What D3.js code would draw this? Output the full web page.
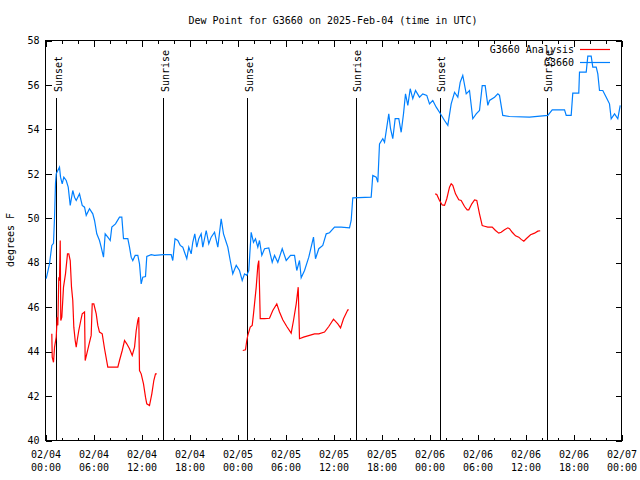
<!DOCTYPE html>
<html>
<head>
<meta charset="utf-8">
<script src="https://cdn.jsdelivr.net/npm/d3@7"></script>
<style>
body { margin: 0; background: #fff; }
text { font-family: "DejaVu Sans Mono", monospace; font-size: 10px; fill: #000; }
</style>
</head>
<body>
<div id="container"></div>
<script>
/**
 * DATA (hours since 2025-02-04 00:00 UTC)
 * */
const obsHours = [0.09,0.5,0.79,1.0,1.13,1.25,1.34,1.54,1.75,1.88,2.09,2.29,2.59,2.84,3.09,3.41,3.63,3.84,4.25,4.59,4.88,5.09,5.5,5.91,6.13,6.41,6.75,6.96,7.25,7.46,7.79,8.09,8.29,8.75,9.25,9.54,9.75,10.29,10.5,10.71,10.91,11.21,11.54,11.75,11.96,12.16,12.5,12.66,13.21,13.63,14.75,15.71,15.91,16.19,16.54,16.84,17.16,17.38,17.66,17.91,18.21,18.41,18.66,18.91,19.16,19.46,19.66,20.09,20.41,20.71,21.13,21.54,21.96,22.25,22.59,22.79,23.09,23.41,23.84,24.25,24.59,24.88,25.16,25.41,25.71,26.0,26.25,26.54,26.75,27.04,27.38,27.91,28.34,28.63,29.04,29.59,30.09,30.63,31.13,31.41,31.75,31.96,32.38,32.91,33.5,33.75,34.16,34.66,35.09,35.5,36.13,36.96,38.0,38.21,38.41,40.71,40.91,41.34,41.54,41.75,42.16,42.38,42.91,43.13,43.41,43.71,44.16,44.46,44.75,45.0,45.29,45.59,45.91,46.25,46.75,47.16,47.66,48.0,48.41,48.84,49.25,49.88,50.29,50.71,51.13,51.54,51.84,52.16,52.59,53.0,53.41,53.84,54.25,54.59,54.96,55.29,55.5,56.13,56.54,56.75,57.16,58.0,60.5,62.79,63.34,64.88,65.09,65.71,65.91,66.66,66.75,67.59,67.79,68.21,68.41,68.84,69.04,69.25,69.66,70.09,70.5,70.71,71.13,71.54,71.84];
const obsDewpt = [47.28,47.95,48.78,48.87,50.05,51.57,52.0,52.15,52.3,51.85,51.55,51.85,51.7,51.4,50.58,51.25,50.95,50.8,51.1,50.58,50.5,50.13,50.43,50.2,49.9,49.3,49.0,48.7,48.25,49.3,49.15,49.0,49.6,49.75,50.05,50.05,49.08,49.08,48.7,48.25,48.1,48.33,48.33,47.95,47.05,47.35,47.38,48.28,48.36,48.33,48.36,48.37,48.1,49.08,49.0,48.78,48.7,48.47,48.18,48.7,48.4,48.92,49.3,48.7,49.08,49.3,48.7,49.45,48.85,49.15,49.37,48.7,49.98,49.3,48.92,48.7,48.1,47.5,47.88,47.65,47.2,47.5,47.43,47.65,49.37,48.92,49.08,48.7,49.0,48.33,48.63,48.67,48.02,48.33,48.02,48.63,48.1,48.33,48.33,47.65,48.1,47.32,47.65,48.25,49.15,48.18,48.63,48.78,49.3,49.35,49.6,49.6,49.57,49.9,50.92,50.95,51.93,51.85,51.62,53.35,53.58,53.42,54.7,54.03,53.58,54.48,54.48,53.87,54.7,55.6,55.08,55.83,55.38,55.75,55.45,55.6,55.53,55.15,55.3,55.0,54.77,54.4,54.18,55.15,55.67,55.45,56.12,56.43,55.6,55.75,54.48,54.7,54.85,55.97,55.97,55.08,55.3,55.45,55.6,55.53,54.63,54.58,54.55,54.63,54.88,54.88,54.63,54.63,55.63,55.63,56.58,56.58,57.3,57.3,56.8,56.8,56.5,55.75,55.75,55.45,55.15,54.48,54.7,54.48,55.08];

// analysis series, null marks a gap
const anaHours = [0.79,0.84,1.0,1.13,1.34,1.46,1.54,1.66,1.75,1.84,1.91,2.04,2.25,2.5,2.75,2.91,3.09,3.25,3.41,3.54,3.71,3.84,3.96,4.16,4.41,4.59,4.88,4.96,5.16,5.41,5.71,5.84,6.04,6.34,6.54,6.75,7.09,7.38,7.79,9.04,9.25,9.59,9.88,10.16,10.5,10.84,11.13,11.34,11.54,11.66,11.75,11.96,12.25,12.5,12.66,13.0,13.29,13.54,13.75,13.91,
  19,
  24.66,25.0,25.16,25.29,25.59,25.84,26.0,26.34,26.54,26.66,26.75,26.84,27.38,28.0,28.41,28.91,29.25,29.66,30.16,30.71,31.0,31.34,31.59,31.75,32.25,33.0,33.63,34.16,34.88,35.41,36.0,36.54,36.88,37.25,37.79,37.91,
  43,
  48.71,48.91,49.25,49.59,49.88,50.16,50.5,50.71,50.91,51.25,51.66,51.96,52.38,52.71,52.91,53.29,53.63,53.91,54.25,54.59,54.88,55.29,55.84,56.25,56.66,56.96,57.38,57.79,58.0,58.34,58.75,59.16,59.46,59.79,60.09,60.63,61.13,61.54,61.84];
const anaDewpt = [44.8,43.75,43.52,44.2,44.65,45.55,45.18,47.35,47.2,49.0,45.4,45.55,46.9,47.5,48.4,48.4,48.1,46.9,46.3,45.1,44.5,44.2,44.5,44.95,45.4,45.7,45.78,43.6,43.9,44.28,44.73,46.15,46.15,45.7,45.18,44.88,44.8,44.13,43.3,43.3,43.6,44.05,44.5,44.35,44.13,43.83,44.2,44.95,45.4,45.55,43.15,43.0,42.55,41.95,41.65,41.57,42.1,42.7,43.0,43.0,
  null,
  44.05,44.08,44.5,44.73,45.1,45.18,45.7,46.9,47.87,48.1,46.9,45.48,45.48,45.5,45.85,46.15,45.78,45.43,45.13,44.83,45.4,46.15,46.9,44.58,44.65,44.73,44.8,44.8,44.88,45.13,45.46,45.25,45.07,45.48,45.88,45.88,
  null,
  51.1,51.07,50.8,50.6,50.58,50.88,51.4,51.55,51.48,51.1,50.83,50.8,50.53,50.38,50.38,50.65,50.83,50.8,50.2,49.67,49.64,49.6,49.6,49.45,49.33,49.37,49.48,49.57,49.53,49.37,49.21,49.15,49.05,48.97,49.08,49.26,49.33,49.42,49.44];

const sunsetHours = [1.42, 25.3, 49.35];
const sunriseHours = [14.8, 38.83, 62.73];
const yTicks = [40, 42, 44, 46, 48, 50, 52, 54, 56, 58];
const seriesNames = ["G3660 Analysis", "G3660"];
const seriesColors = ["#ff0000", "#0080ff"];

/**
 * SCALES
 * */
const width = 640, height = 480;
const start = Date.UTC(2025, 1, 4);
const toDate = h => new Date(start + h * 3600e3);

const x = d3.scaleUtc()
  .domain([toDate(0), toDate(72)])
  .range([45.5, 621.5]);
const y = d3.scaleLinear()
  .domain([40, 58])
  .range([440.5, 40.5]);

const svg = d3.select("#container")
  .append("svg")
  .attr("width", width)
  .attr("height", height);

// title
svg.append("text")
  .attr("x", 333)
  .attr("y", 24)
  .attr("text-anchor", "middle")
  .text("Dew Point for G3660 on 2025-Feb-04 (time in UTC)");

// y label
svg.append("text")
  .attr("transform", "translate(14,240) rotate(-90)")
  .attr("text-anchor", "middle")
  .text("degrees F");

/**
 * AXES
 * */
const major = d3.range(0, 73, 6).map(toDate);
const minor = d3.range(0, 73, 2).map(toDate);

const axG = svg.append("g").attr("shape-rendering", "crispEdges");

axG.append("g")
  .attr("transform", "translate(0,440.5)")
  .call(d3.axisBottom(x).tickValues(minor).tickSize(-3).tickFormat(""))
  .call(g => g.select(".domain").remove());
axG.append("g")
  .attr("transform", "translate(0,40.5)")
  .call(d3.axisTop(x).tickValues(minor).tickSize(-3).tickFormat(""))
  .call(g => g.select(".domain").remove());
axG.append("g")
  .attr("transform", "translate(0,40.5)")
  .call(d3.axisTop(x).tickValues(major).tickSize(-6).tickFormat(""))
  .call(g => g.select(".domain").remove());

const bottom = axG.append("g")
  .attr("transform", "translate(0,440.5)")
  .call(d3.axisBottom(x).tickValues(major).tickSize(-6).tickPadding(14)
    .tickFormat(d3.utcFormat("%m/%d")))
  .call(g => g.select(".domain").remove());

bottom.selectAll(".tick text").each(function(d) {
  const t = d3.select(this);
  t.text(null).attr("y", 17).attr("dy", null);
  t.append("tspan").attr("x", 0).text(d3.utcFormat("%m/%d")(d));
  t.append("tspan").attr("x", 0).attr("dy", 13).text(d3.utcFormat("%H:%M")(d));
});

axG.append("g")
  .attr("transform", "translate(45.5,0)")
  .call(d3.axisLeft(y).tickValues(yTicks).tickSize(-6).tickPadding(6).tickFormat(d3.format("d")))
  .call(g => g.select(".domain").remove());
axG.append("g")
  .attr("transform", "translate(621.5,0)")
  .call(d3.axisRight(y).tickValues(yTicks).tickSize(-6).tickFormat(""))
  .call(g => g.select(".domain").remove());

svg.selectAll(".tick text").style("font-family", "DejaVu Sans Mono, monospace").style("font-size", "10px");

axG.append("rect")
  .attr("x", 45.5).attr("y", 40.5)
  .attr("width", 576).attr("height", 400)
  .attr("fill", "none").attr("stroke", "#000");

/**
 * SUNRISE / SUNSET MARKERS
 * */
const sunEvents = sunsetHours.map(h => ({h, label: "Sunset"}))
  .concat(sunriseHours.map(h => ({h, label: "Sunrise"})));

const sun = svg.append("g").selectAll("g")
  .data(sunEvents)
  .join("g");

sun.append("line")
  .attr("shape-rendering", "crispEdges")
  .attr("x1", d => Math.round(x(toDate(d.h)) - 0.5) + 0.5)
  .attr("x2", d => Math.round(x(toDate(d.h)) - 0.5) + 0.5)
  .attr("y1", 98)
  .attr("y2", 440)
  .attr("stroke", "#000");

sun.append("text")
  .attr("transform", d => `translate(${x(toDate(d.h)) + 5},92) rotate(-90)`)
  .attr("text-anchor", "start")
  .text(d => d.label);

/**
 * LINES
 * */
const obs = obsHours.map((h, i) => ({t: toDate(h), v: obsDewpt[i]}));
const ana = anaHours.map((h, i) => ({t: toDate(h), v: anaDewpt[i]}));

const line = d3.line()
  .defined(d => d.v != null)
  .x(d => x(d.t))
  .y(d => y(d.v));

svg.append("path")
  .datum(ana)
  .attr("fill", "none")
  .attr("stroke", seriesColors[0])
  .attr("stroke-width", 1.2)
  .attr("d", line);

svg.append("path")
  .datum(obs)
  .attr("fill", "none")
  .attr("stroke", seriesColors[1])
  .attr("stroke-width", 1.2)
  .attr("d", line);

/**
 * LEGEND
 * */
const legend = svg.append("g").selectAll("g")
  .data(seriesNames)
  .join("g")
  .attr("transform", (d, i) => `translate(0,${49 + i * 13})`);

legend.append("text")
  .attr("x", 574)
  .attr("y", 4)
  .attr("text-anchor", "end")
  .text(d => d);

legend.append("line")
  .attr("x1", 580).attr("x2", 610)
  .attr("y1", 0.5).attr("y2", 0.5)
  .attr("stroke", (d, i) => seriesColors[i])
  .attr("stroke-width", 1.2);
</script>
</body>
</html>
